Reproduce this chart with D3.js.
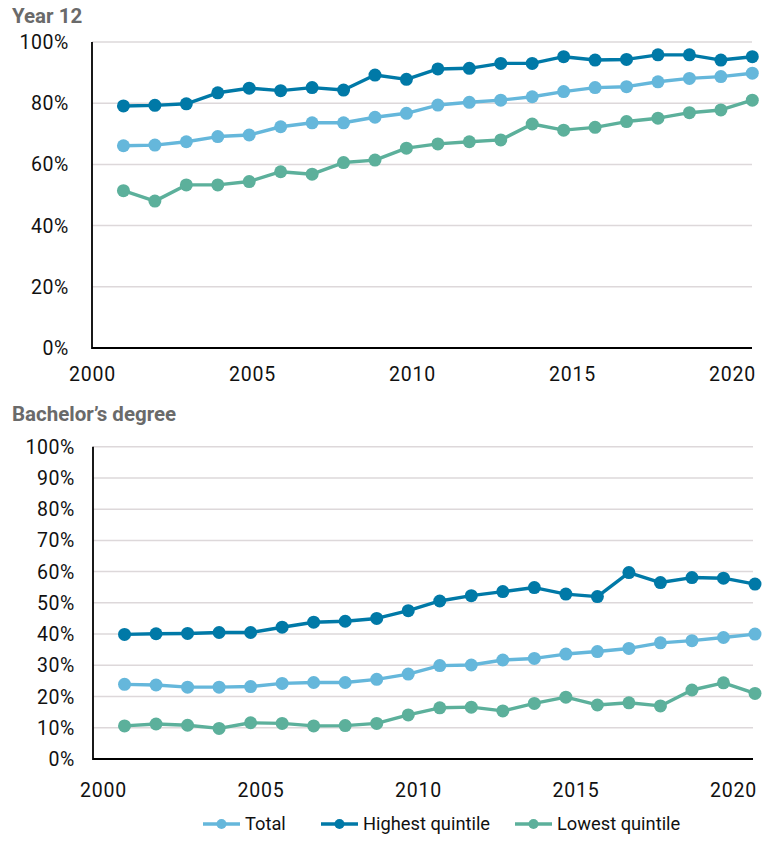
<!DOCTYPE html>
<html>
<head>
<meta charset="utf-8">
<script src="https://cdn.jsdelivr.net/npm/d3@7"></script>
<style>
  body { margin: 0; background: #fff; }
  svg text { font-family: Roboto, "Noto Sans", sans-serif; }
</style>
</head>
<body>
<svg id="chart" width="764" height="843"></svg>
<script>
// years of the survey
var years = d3.range(2001, 2022)

// Year 12 completion (%)
var y12_total   = [66.1, 66.3, 67.4, 69.1, 69.6, 72.3, 73.6, 73.6, 75.4, 76.7, 79.4, 80.3, 81.0, 82.1, 83.8, 85.1, 85.4, 87.0, 88.1, 88.7, 89.8]
var y12_highest = [79.1, 79.3, 79.8, 83.4, 84.9, 84.1, 85.1, 84.3, 89.2, 87.8, 91.2, 91.4, 93.0, 93.0, 95.2, 94.1, 94.3, 95.8, 95.8, 94.1, 95.2]
var y12_lowest  = [51.4, 48.0, 53.3, 53.3, 54.4, 57.6, 56.8, 60.6, 61.4, 65.3, 66.7, 67.4, 68.0, 73.2, 71.2, 72.1, 74.0, 75.1, 76.9, 77.8, 81.0]

// Bachelor's degree (%)
var ba_total   = [23.9, 23.7, 23.0, 23.0, 23.2, 24.2, 24.5, 24.5, 25.5, 27.2, 29.9, 30.1, 31.7, 32.2, 33.6, 34.4, 35.4, 37.2, 37.9, 38.9, 40.0]
var ba_highest = [39.9, 40.1, 40.2, 40.5, 40.5, 42.2, 43.8, 44.1, 45.0, 47.5, 50.6, 52.3, 53.6, 54.9, 52.8, 52.0, 59.7, 56.5, 58.1, 57.9, 56.0]
var ba_lowest  = [10.6, 11.2, 10.8, 9.8, 11.6, 11.4, 10.6, 10.7, 11.4, 14.1, 16.4, 16.6, 15.4, 17.8, 19.8, 17.3, 18.0, 17.0, 22.1, 24.4, 21.0]

var series_names = ["Total", "Highest quintile", "Lowest quintile"]
var x_tick_years = [2000, 2005, 2010, 2015, 2020]
var y12_ticks = [0, 20, 40, 60, 80, 100]
var ba_ticks = d3.range(0, 101, 10)

var colors = {"Total": "#65b7db", "Highest quintile": "#0079a7", "Lowest quintile": "#5cb09b"}

var svg = d3.select("#chart")

function draw_panel(cfg) {
	var g = svg.append("g")

	var x = d3.scaleLinear().domain([2000, 2021]).range([cfg.left, cfg.pt_right])
	// tick labels sit a little off the point positions in the original
	var x_lab = d3.scaleLinear().domain([2000, 2020]).range(cfg.lab_range)
	var y = d3.scaleLinear().domain([0, 100]).range([cfg.bottom, cfg.top])

	g.append("text")
	  .attr("x", 12)
	  .attr("y", cfg.title_y)
	  .style("font-size", "20.5px")
	  .style("font-weight", "bold")
	  .style("fill", "#6a6a6a")
	  .text(cfg.title)

	// gridlines
	g.selectAll(".grid")
	  .data(cfg.ticks.filter(d => d > 0))
	  .enter()
	  .append("line")
	  .attr("x1", cfg.left)
	  .attr("x2", cfg.right)
	  .attr("y1", d => y(d))
	  .attr("y2", d => y(d))
	  .style("stroke", "#ddd8da")
	  .style("stroke-width", 1.5)

	// y labels
	g.selectAll(".ylab")
	  .data(cfg.ticks)
	  .enter()
	  .append("text")
	  .attr("x", cfg.ylab_x)
	  .attr("y", d => y(d))
	  .attr("dy", "0.36em")
	  .attr("text-anchor", "end")
	  .style("font-size", "19.5px")
	  .style("letter-spacing", "0.6px")
	  .style("fill", "#111")
	  .text(d => d + "%")

	// x axis via d3 axis, no tick marks
	var xa = g.append("g")
	  .attr("transform", "translate(0," + cfg.bottom + ")")
	  .call(d3.axisBottom(x_lab).tickValues(x_tick_years).tickFormat(d3.format("d")).tickSize(0).tickPadding(cfg.xlab_pad))
	xa.select(".domain").remove()
	xa.selectAll("text")
	  .style("font-size", "19.5px")
	  .style("letter-spacing", "0.8px")
	  .style("font-family", "Roboto, sans-serif")
	  .style("fill", "#111")

	// axis lines
	g.append("line")
	  .attr("x1", cfg.left).attr("x2", cfg.left)
	  .attr("y1", cfg.top).attr("y2", cfg.bottom + 1)
	  .style("stroke", "#000").style("stroke-width", 1.8)
	g.append("line")
	  .attr("x1", cfg.left).attr("x2", cfg.right)
	  .attr("y1", cfg.bottom).attr("y2", cfg.bottom)
	  .style("stroke", "#000").style("stroke-width", 1.8)

	var line = d3.line().x(d => x(d.year)).y(d => y(d.value))

	cfg.series.forEach(function(s) {
		var pts = years.map((yr, i) => ({year: yr, value: s.values[i]}))
		g.append("path")
		  .datum(pts)
		  .attr("d", line)
		  .style("fill", "none")
		  .style("stroke", colors[s.name])
		  .style("stroke-width", 3.4)
		  .style("stroke-linejoin", "round")
		g.selectAll(".pt_" + s.key)
		  .data(pts)
		  .enter()
		  .append("circle")
		  .attr("class", "pt_" + s.key)
		  .attr("cx", d => x(d.year))
		  .attr("cy", d => y(d.value))
		  .attr("r", 6.5)
		  .style("fill", colors[s.name])
	})
}

draw_panel({
	title: "Year 12", title_y: 23,
	left: 92, right: 752, pt_right: 752.3, top: 42, bottom: 348,
	lab_range: [92, 732], ticks: y12_ticks, ylab_x: 69, xlab_pad: 19,
	series: [
		{name: "Total", key: "t", values: y12_total},
		{name: "Lowest quintile", key: "l", values: y12_lowest},
		{name: "Highest quintile", key: "h", values: y12_highest}
	]
})

draw_panel({
	title: "Bachelor\u2019s degree", title_y: 421,
	left: 93, right: 753, pt_right: 755, top: 446.7, bottom: 759,
	lab_range: [103, 733], ticks: ba_ticks, ylab_x: 75, xlab_pad: 24,
	series: [
		{name: "Total", key: "t", values: ba_total},
		{name: "Lowest quintile", key: "l", values: ba_lowest},
		{name: "Highest quintile", key: "h", values: ba_highest}
	]
})

// legend
var legend_x = {"Total": 203, "Highest quintile": 321, "Lowest quintile": 515}
var leg = svg.selectAll(".legend")
  .data(series_names)
  .enter()
  .append("g")
  .attr("class", "legend")
  .attr("transform", d => "translate(" + legend_x[d] + ",824)")
leg.append("line")
  .attr("x1", 0).attr("x2", 37)
  .style("stroke", d => colors[d])
  .style("stroke-width", 3.4)
leg.append("circle")
  .attr("cx", 18.5)
  .attr("r", 5)
  .style("fill", d => colors[d])
leg.append("text")
  .attr("x", 42)
  .attr("dy", "0.35em")
  .style("font-size", "18.3px")
  .style("fill", "#111")
  .text(d => d)
</script>
</body>
</html>
